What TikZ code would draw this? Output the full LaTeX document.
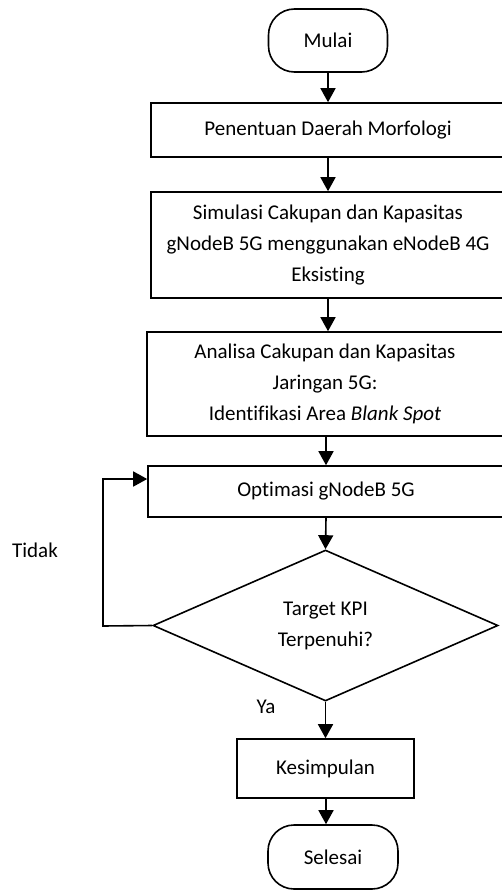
\documentclass[tikz,border=0pt]{standalone}
\usepackage{fontspec}
\setmainfont[Ligatures={NoCommon,NoContextual},Contextuals={NoAlternate}]{Carlito}
\usetikzlibrary{shapes.geometric,arrows.meta}
\begin{document}
\begin{tikzpicture}[x=1pt,y=-1pt,
  every node/.style={font=\fontsize{21}{31}\selectfont},
  proc/.style={draw,line width=1.6pt,rectangle,inner sep=0pt,align=center},
  term/.style={draw,line width=1.6pt,rectangle,rounded corners=26pt,inner sep=0pt,align=center},
  dec/.style={draw,line width=1.6pt,diamond,aspect=2.28,inner sep=0pt,align=center},
  lbl/.style={inner sep=0pt},
  arr/.style={line width=1.6pt,-{Triangle[width=15pt,length=14pt]}}]
\useasboundingbox (0,0) rectangle (501,891);
\node[term,minimum width=119pt,minimum height=63pt] (start) at (328,40.5) {Mulai};
\node[proc,minimum width=354pt,minimum height=54pt] (b1) at (328,130) {Penentuan Daerah Morfologi};
\node[proc,minimum width=354pt,minimum height=106pt] (b2) at (328,245) {Simulasi Cakupan dan Kapasitas\\gNodeB 5G menggunakan eNodeB 4G\\Eksisting};
\node[proc,minimum width=356pt,minimum height=104pt] (b3) at (325,384) {Analisa Cakupan dan Kapasitas\\Jaringan 5G:\\Identifikasi Area \textit{Blank Spot}};
\node[proc,minimum width=356pt,minimum height=51pt] (b4) at (326,491.5) {Optimasi gNodeB 5G};
\node[dec,minimum width=345pt,minimum height=151pt] (d) at (325.5,625.5) {\raisebox{-4pt}{\parbox{150pt}{\centering Target KPI\\Terpenuhi?}}};
\node[proc,minimum width=177pt,minimum height=59pt] (b5) at (325.5,768.5) {Kesimpulan};
\node[term,minimum width=130pt,minimum height=64pt] (stop) at (333,857) {Selesai};
\node[lbl] (tidak) at (35,550) {Tidak};
\node[lbl] (ya) at (266,707) {Ya};
\coordinate (lp1) at (103,626);
\coordinate (lp2) at (103,479);
\draw[arr] (start.south -| 328,0) -- (b1.north -| 328,0);
\draw[arr] (b1.south -| 328,0) -- (b2.north -| 328,0);
\draw[arr] (b2.south -| 328,0) -- (b3.north -| 328,0);
\draw[arr] (b3.south -| 326,0) -- (b4.north -| 326,0);
\draw[arr] (b4.south -| 326,0) -- (d.north);
\draw[arr] (d.south) -- (b5.north -| d.south);
\draw[arr] (b5.south -| 326,0) -- (stop.north -| 326,0);
\draw[arr] (d.west) -- (lp1) -- (lp2) -- (b4.west |- lp2);
\end{tikzpicture}
\end{document}
